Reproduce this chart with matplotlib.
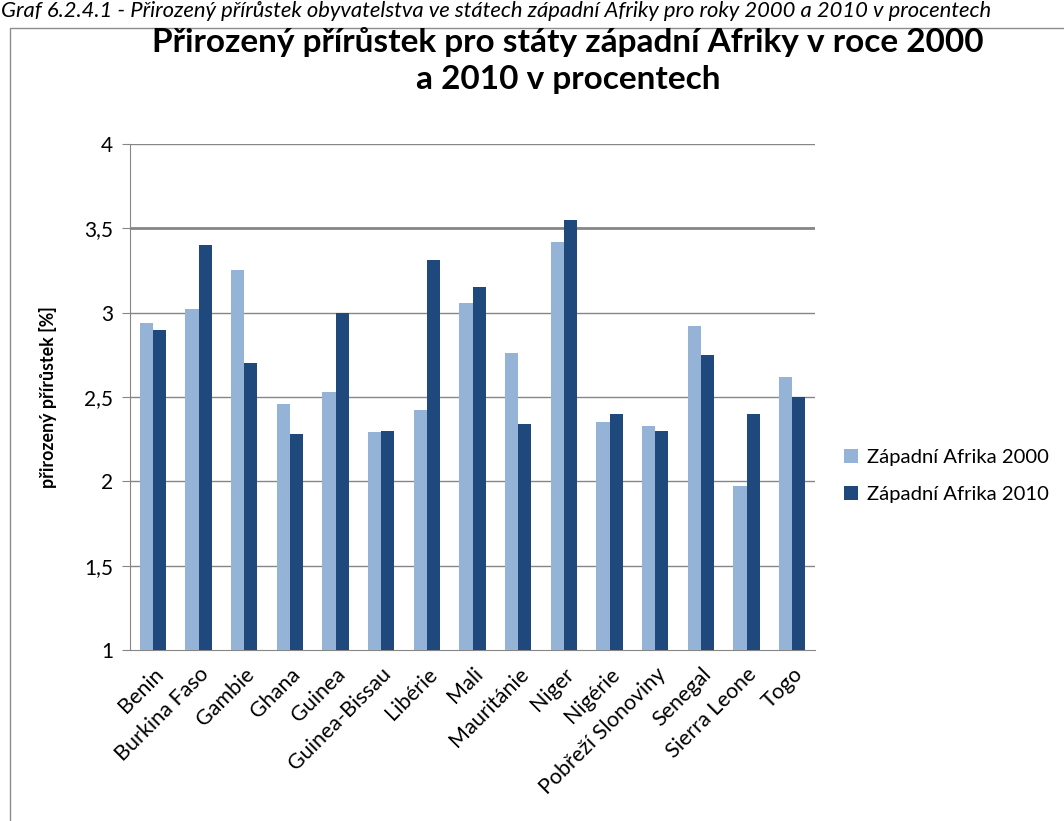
import numpy as np
import matplotlib.pyplot as plt
from matplotlib.patches import Rectangle

plt.rcParams['font.family'] = ['Lato', 'DejaVu Sans']

# data
states = ["Benin", "Burkina Faso", "Gambie", "Ghana", "Guinea", "Guinea-Bissau",
          "Libérie", "Mali", "Mauritánie", "Niger", "Nigérie", "Pobřeží Slonoviny",
          "Senegal", "Sierra Leone", "Togo"]
y2000 = [2.94, 3.02, 3.25, 2.46, 2.53, 2.29, 2.42, 3.06, 2.76, 3.42, 2.35, 2.33, 2.92, 1.97, 2.62]
y2010 = [2.90, 3.40, 2.70, 2.28, 3.00, 2.30, 3.31, 3.15, 2.34, 3.55, 2.40, 2.30, 2.75, 2.40, 2.50]
yticks = [1, 1.5, 2, 2.5, 3, 3.5, 4]
ytick_labels = ["1", "1,5", "2", "2,5", "3", "3,5", "4"]

c2000 = "#95B3D7"
c2010 = "#1F497D"
grid_c = "#868686"

fig = plt.figure(figsize=(10.64, 8.21), dpi=100)

# chart frame
fig.patches.append(Rectangle((10/1064, -0.01), 1.1, 1 - 28/821 + 0.01, transform=fig.transFigure,
                             fill=False, edgecolor="#8c8c8c", linewidth=1.0))

# caption above the frame
fig.text(1/1064, 1 - 1/821, "Graf 6.2.4.1 - Přirozený přírůstek obyvatelstva ve státech západní Afriky pro roky 2000 a 2010 v procentech",
         fontsize=15.8, style="italic", ha="left", va="top", color="black")

ax = fig.add_axes([130/1064, 1 - 650/821, 685/1064, 506/821])

x = np.arange(len(states))
w = 0.29
ax.bar(x - w/2, np.array(y2000) - 1, w, bottom=1, color=c2000, label="Západní Afrika 2000", zorder=3)
ax.bar(x + w/2, np.array(y2010) - 1, w, bottom=1, color=c2010, label="Západní Afrika 2010", zorder=3)

ax.set_xlim(-0.5, len(states) - 0.5)
ax.set_ylim(1, 4)
ax.set_yticks(yticks)
ax.set_yticklabels(ytick_labels, fontsize=15)
for yv in yticks[1:]:
    ax.axhline(yv, color=grid_c, linewidth=2.0 if yv == 3.5 else 1.0, zorder=1)

ax.set_xticks(x)
ax.set_xticklabels(states, rotation=45, ha="right", rotation_mode="anchor", fontsize=15.5)
ax.tick_params(axis="x", length=0, pad=10)
ax.tick_params(axis="y", length=6, color=grid_c, pad=6)

for s in ["top", "right"]:
    ax.spines[s].set_visible(False)
ax.spines["left"].set_color(grid_c)
ax.spines["bottom"].set_color(grid_c)

ax.set_ylabel("přirozený přírůstek [%]", fontsize=12.8, fontweight="bold", labelpad=20)

fig.text(568/1064, 1 - 42/821, "Přirozený přírůstek pro státy západní Afriky v roce 2000",
         fontsize=24, fontweight="bold", ha="center", va="center")
fig.text(568/1064, 1 - 80/821, "a 2010 v procentech",
         fontsize=24, fontweight="bold", ha="center", va="center")

fig.legend(loc="center left", bbox_to_anchor=(826/1064, 1 - 476/821), frameon=False,
           fontsize=14.6, handlelength=0.7, handleheight=0.7, handletextpad=0.4, labelspacing=1.0)

fig.savefig("out.png", dpi=100)
